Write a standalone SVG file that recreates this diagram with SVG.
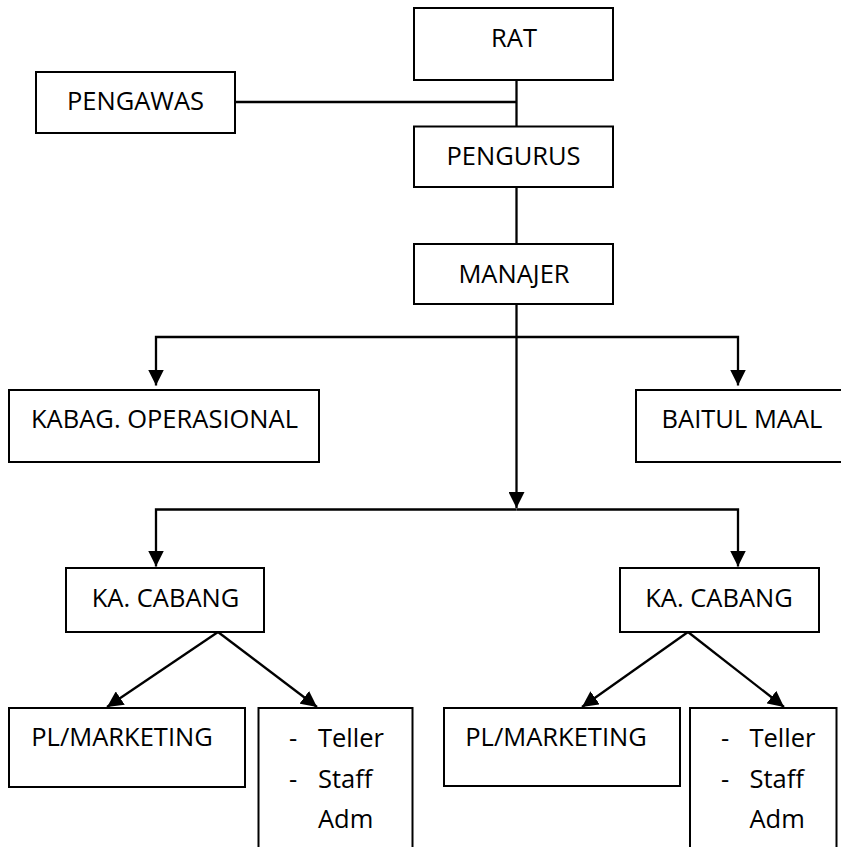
<svg xmlns="http://www.w3.org/2000/svg" width="841" height="847" viewBox="0 0 841 847">
<defs>
<marker id="arr" markerWidth="17" markerHeight="16" refX="16" refY="8" orient="auto" markerUnits="userSpaceOnUse">
<path d="M0,0 L16,8 L0,16 z" fill="#000"/>
</marker>
<style>
.box{fill:#fff;stroke:#000;stroke-width:2}
.t{font-family:"Open Sans","Noto Sans",sans-serif;font-size:25.5px;fill:#000}
.m{text-anchor:middle}
.c{fill:none;stroke:#000;stroke-width:2.3}
</style>
</defs>
<rect width="841" height="847" fill="#fff"/>
<g id="connectors">
<path class="c" d="M516.5,80 V126"/>
<path class="c" d="M235,102 H516.5"/>
<path class="c" d="M516.5,187 V244"/>
<path class="c" d="M516.5,304 V508" marker-end="url(#arr)"/>
<path class="c" d="M516.5,337 H156 V385.5" marker-end="url(#arr)"/>
<path class="c" d="M516.5,337 H738 V385.5" marker-end="url(#arr)"/>
<path class="c" d="M516.5,509.5 H156 V566.5" marker-end="url(#arr)"/>
<path class="c" d="M516.5,509.5 H738 V566.5" marker-end="url(#arr)"/>
<path class="c" d="M218,632 L107,707" marker-end="url(#arr)"/>
<path class="c" d="M218,632 L317,707" marker-end="url(#arr)"/>
<path class="c" d="M688,632 L582,707" marker-end="url(#arr)"/>
<path class="c" d="M688,632 L784,707" marker-end="url(#arr)"/>
</g>
<g id="rat"><rect class="box" x="414" y="8" width="199" height="72"/><text class="t m" x="514" y="46.5">RAT</text></g>
<g id="pengawas"><rect class="box" x="36" y="72" width="199" height="61"/><text class="t m" x="135.5" y="110">PENGAWAS</text></g>
<g id="pengurus"><rect class="box" x="414" y="126.5" width="199" height="60.5"/><text class="t m" x="513.5" y="165">PENGURUS</text></g>
<g id="manajer"><rect class="box" x="414" y="244" width="199" height="60"/><text class="t m" x="514" y="283">MANAJER</text></g>
<g id="kabag"><rect class="box" x="9" y="390" width="310" height="72"/><text class="t m" x="164.5" y="428">KABAG. OPERASIONAL</text></g>
<g id="baitul"><rect class="box" x="636" y="390" width="210" height="72"/><text class="t m" x="742" y="428">BAITUL MAAL</text></g>
<g id="kacabang1"><rect class="box" x="66" y="568" width="198" height="64"/><text class="t m" x="165.5" y="606.5">KA. CABANG</text></g>
<g id="kacabang2"><rect class="box" x="620" y="568" width="199" height="64"/><text class="t m" x="719" y="606.5">KA. CABANG</text></g>
<g id="pl1"><rect class="box" x="9" y="708" width="236" height="79"/><text class="t m" x="122" y="746">PL/MARKETING</text></g>
<g id="staff1"><rect class="box" x="258.5" y="708" width="154" height="145"/>
<text class="t" x="289" y="746.5">-</text><text class="t" x="318" y="746.5">Teller</text>
<text class="t" x="289" y="788">-</text><text class="t" x="318" y="788">Staff</text>
<text class="t" x="318" y="828">Adm</text></g>
<g id="pl2"><rect class="box" x="444" y="708" width="236" height="78"/><text class="t m" x="556" y="746">PL/MARKETING</text></g>
<g id="staff2"><rect class="box" x="690" y="708" width="146.5" height="145"/>
<text class="t" x="721" y="746.5">-</text><text class="t" x="749.5" y="746.5">Teller</text>
<text class="t" x="721" y="788">-</text><text class="t" x="749.5" y="788">Staff</text>
<text class="t" x="749.5" y="828">Adm</text></g>
</svg>
